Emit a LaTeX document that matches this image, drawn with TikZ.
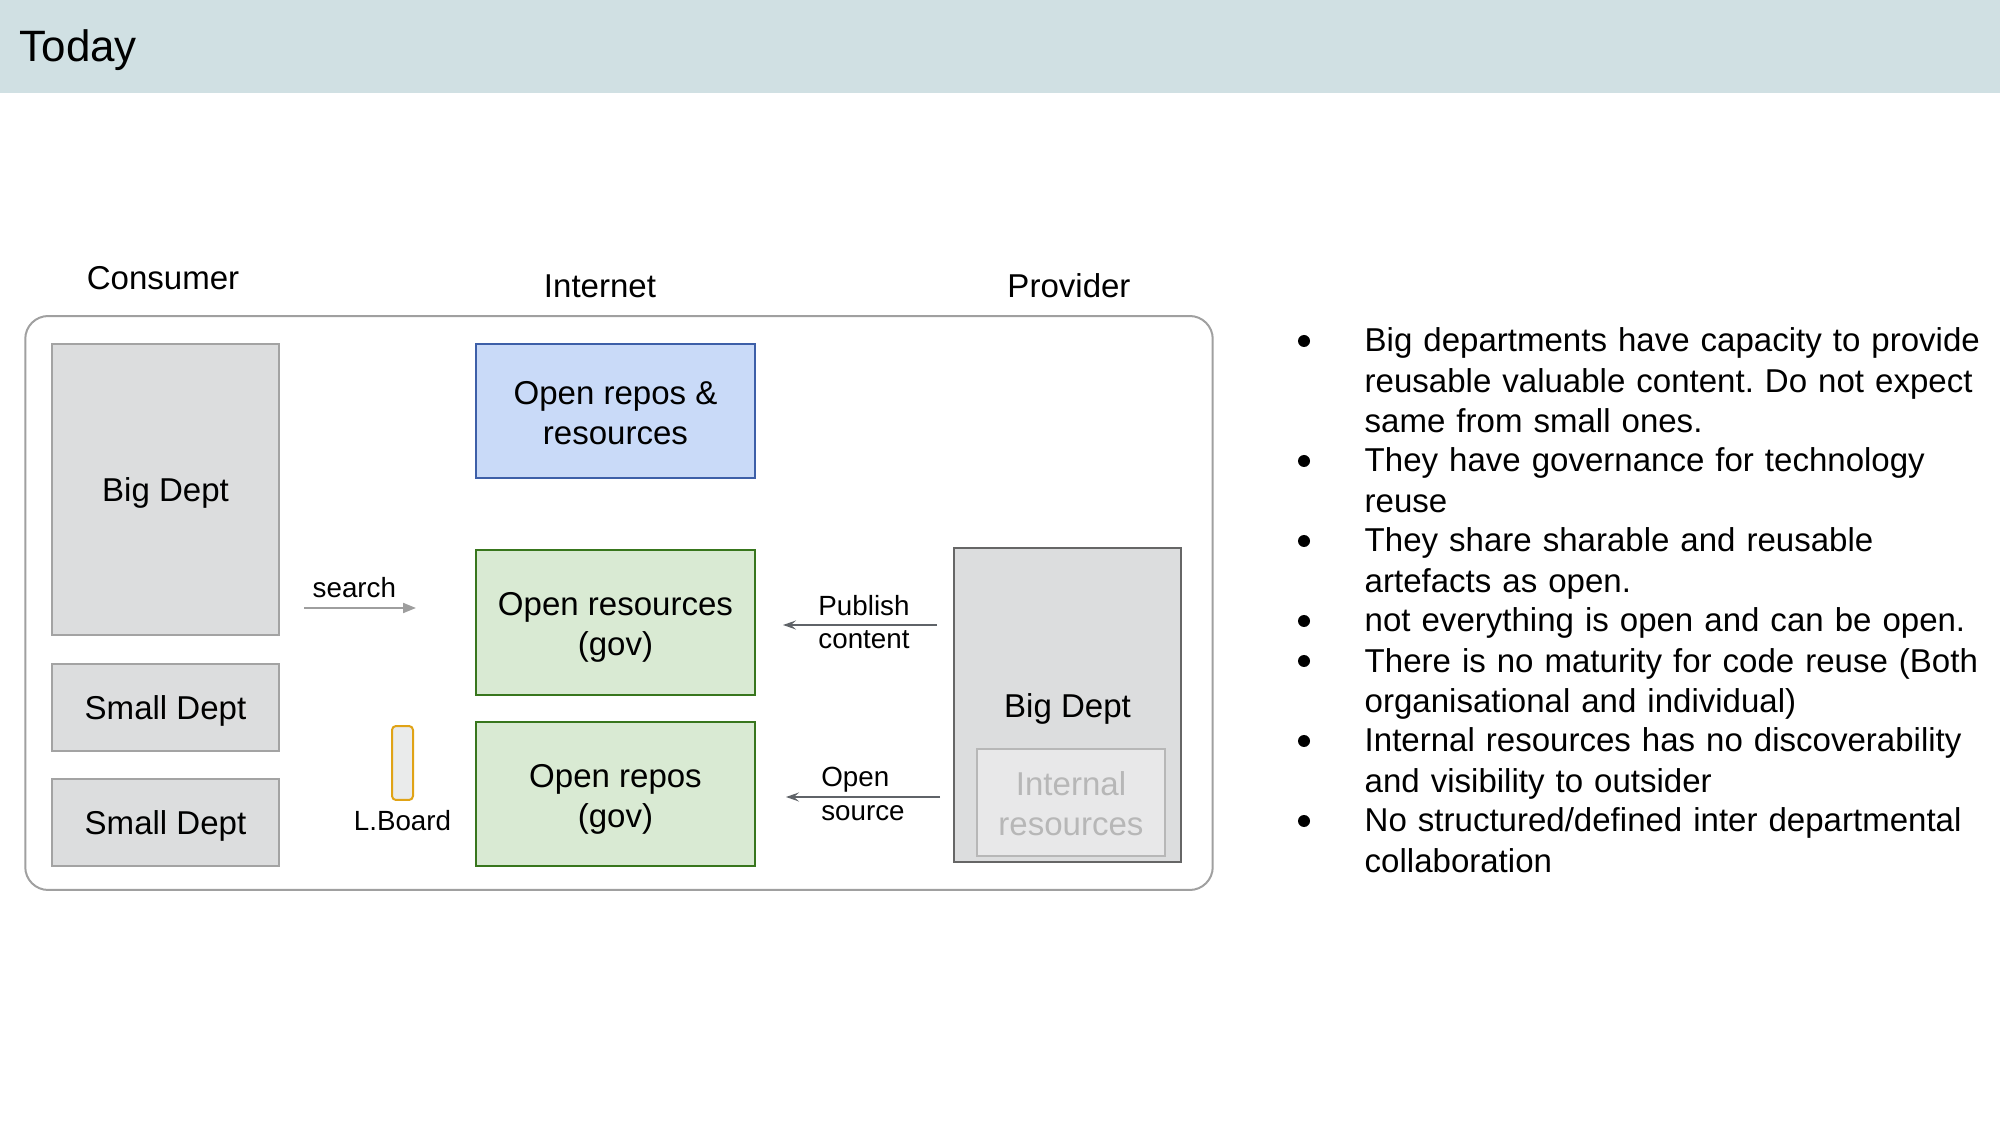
\documentclass[tikz,border=0pt]{standalone}
\usepackage{fontspec}
\setmainfont{Liberation Sans}
\usepackage{tikz}
\usetikzlibrary{positioning,arrows.meta}
\frenchspacing

\definecolor{hdrblue}{HTML}{D0E0E3}
\definecolor{deptfill}{HTML}{DCDDDE}
\definecolor{deptline}{HTML}{A3A3A3}
\definecolor{provline}{HTML}{666666}
\definecolor{repofill}{HTML}{C9DAF8}
\definecolor{repoline}{HTML}{3D5FA8}
\definecolor{govfill}{HTML}{D9EAD3}
\definecolor{govline}{HTML}{38761D}
\definecolor{intfill}{HTML}{E8E8E9}
\definecolor{intline}{HTML}{B7B7B7}
\definecolor{boardline}{HTML}{E0A316}
\definecolor{framegray}{HTML}{A0A0A0}
\definecolor{arrgray}{HTML}{9E9E9E}
\definecolor{arrdark}{HTML}{5F6368}

\begin{document}
\begin{tikzpicture}[x=0.1mm,y=-0.1mm,
   every node/.style={font=\fontsize{9.4}{11.4}\selectfont},
   small/.style={font=\fontsize{7.9}{9.6}\selectfont},
   oneline/.style={text height=9pt,text depth=2pt},
   twoline/.style={text height=21pt,text depth=2pt},
   dept/.style={draw=deptline,fill=deptfill,line width=0.2mm,minimum width=22.7mm,inner sep=0,oneline},
   repo/.style={draw=repoline,fill=repofill,line width=0.2mm,minimum width=27.9mm,align=center,inner sep=0,twoline},
   gov/.style={draw=govline,fill=govfill,line width=0.2mm,minimum width=27.9mm,align=center,inner sep=0,twoline},
   dot/.style={circle,fill=black,inner sep=0,minimum size=1.2mm},
   bullet/.style={anchor=base west,text width=63mm,align=left,inner sep=0},
   srch/.style={draw=arrgray,line width=0.2mm,-{Triangle[length=1.3mm,width=1mm]}},
   pub/.style={draw=arrdark,line width=0.2mm,-{Stealth[length=1.3mm,width=0.9mm,inset=0.5mm]}}] 
   \useasboundingbox (0,0) rectangle (2000,1125);
   % title bar
   \fill[hdrblue] (0,0) rectangle (2000,93);
   \node[anchor=base west,inner sep=0,font=\fontsize{12.5}{15}\selectfont] (today) at (19,62) {Today};

   % frame and column titles
   \node[draw=framegray,line width=0.2mm,rounded corners=2.3mm,minimum width=118.75mm,minimum height=57.4mm] (frame) at (619,603) {};
   \node (cons) at (163,278) {Consumer};
   \node (inet) at (600,286) {Internet};
   \node (prov) at (1069,286) {Provider};

   % consumer side
   \node[dept,minimum height=29.1mm] (cbig) at (165.5,489.5) {Big Dept};
   \node[dept,minimum height=8.7mm] (csmall) [below=2.7mm of cbig] {Small Dept};
   \node[dept,minimum height=8.7mm] (csmalltwo) [below=2.6mm of csmall] {Small Dept};
   \node[draw=boardline,fill=deptfill!60,line width=0.2mm,rounded corners=0.4mm,minimum width=2.1mm,minimum height=7.4mm,inner sep=0] (lboard) at (402.5,763) {};
   \node[small,inner sep=0] (lblabel) [below=0.9mm of lboard] {L.Board};

   % internet
   \node[repo,minimum height=13.4mm] (openrepos) at (615.5,411) {Open repos \&\\resources};
   \node[gov,minimum height=14.5mm] (govres) at (615.5,622.5) {Open resources\\(gov)};
   \node[gov,minimum height=14.4mm] (govrepos) at (615.5,794) {Open repos\\(gov)};

   % provider side
   \node[dept,draw=provline,minimum height=31.4mm] (pbig) at (1067.5,705) {Big Dept};
   \node[draw=intline,fill=intfill,text=intline,line width=0.2mm,minimum width=18.8mm,minimum height=10.7mm,align=center,inner sep=0,twoline] (intres) at (1071,802.5) {Internal\\resources};

   % arrows
   \coordinate (sfrom) at (304,608);
   \coordinate (sto) at (416,608);
   \coordinate (pfrom) at (937,625);
   \coordinate (pto) at (783,625);
   \coordinate (ofrom) at (940,797);
   \coordinate (oto) at (786,797);
   \draw[srch] (sfrom) -- node[small,above,pos=0.45,yshift=-0.25mm] {search} (sto);
   \draw[pub] (pfrom) -- node[small,align=left,xshift=0.4mm,yshift=0.3mm] {Publish\\content} (pto);
   \draw[pub] (ofrom) -- node[small,align=left,yshift=0.3mm] {Open\\source} (oto);

   % notes
   \node[bullet] (bl1) at (1364,352) {Big departments have capacity to provide\\reusable valuable content. Do not expect\\same from small ones.};
   \node[bullet] (bl2) at (1364,472) {They have governance for technology\\reuse};
   \node[bullet] (bl3) at (1364,552) {They share sharable and reusable\\artefacts as open.};
   \node[bullet] (bl4) at (1364,632) {not everything is open and can be open.};
   \node[bullet] (bl5) at (1364,672) {There is no maturity for code reuse (Both\\organisational and individual)};
   \node[bullet] (bl6) at (1364,752) {Internal resources has no discoverability\\and visibility to outsider};
   \node[bullet] (bl7) at (1364,832) {No structured/defined inter departmental\\collaboration};
   \node[dot] (d1) at ([shift={(-60,-11)}]bl1.base west) {};
   \node[dot] (d2) at ([shift={(-60,-11)}]bl2.base west) {};
   \node[dot] (d3) at ([shift={(-60,-11)}]bl3.base west) {};
   \node[dot] (d4) at ([shift={(-60,-11)}]bl4.base west) {};
   \node[dot] (d5) at ([shift={(-60,-11)}]bl5.base west) {};
   \node[dot] (d6) at ([shift={(-60,-11)}]bl6.base west) {};
   \node[dot] (d7) at ([shift={(-60,-11)}]bl7.base west) {};
\end{tikzpicture}
\end{document}
